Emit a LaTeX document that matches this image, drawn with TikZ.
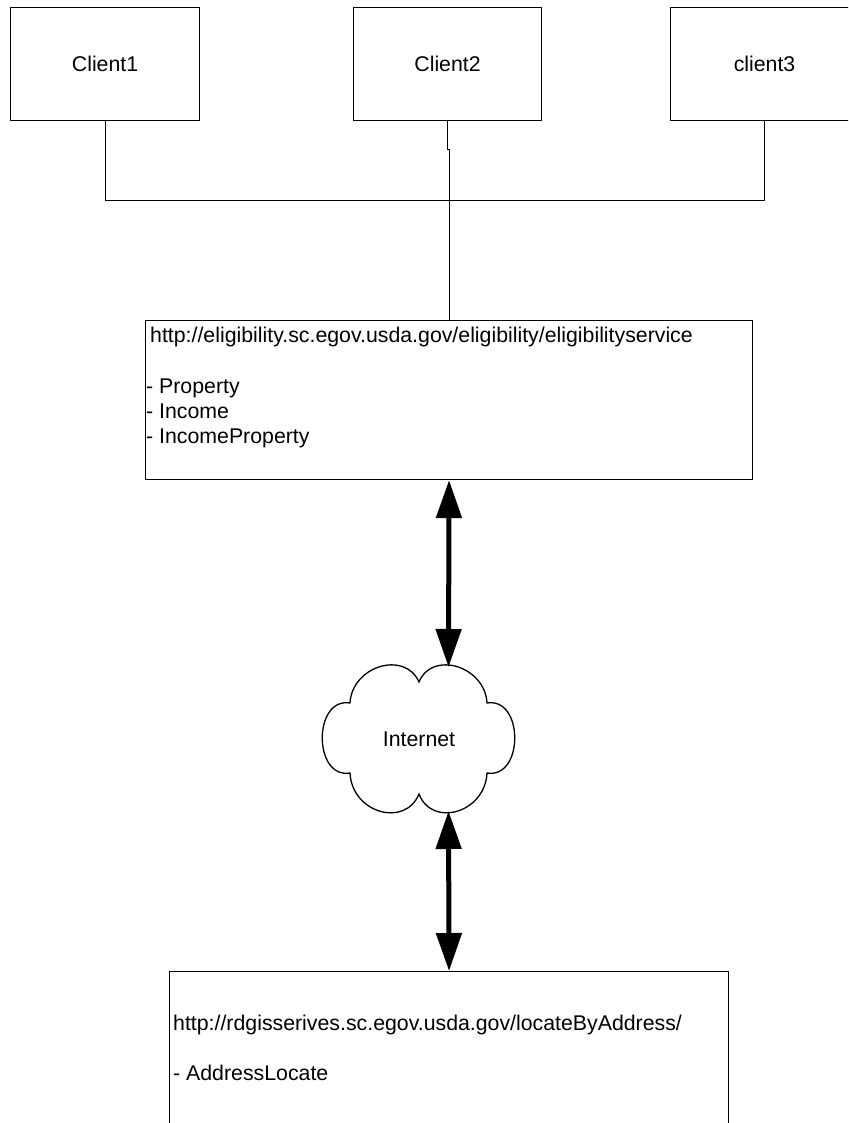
\documentclass[tikz,border=0pt]{standalone}
\usepackage{fontspec}
\setmainfont{Liberation Sans}
\usetikzlibrary{arrows.meta}
\begin{document}
\begin{tikzpicture}[x=1pt,y=-1pt,
  box/.style={draw=black, line width=1.1pt, rectangle, inner sep=0pt, anchor=north west},
  txt/.style={font=\fontsize{21.3}{25}\selectfont, inner sep=0pt},
  wire/.style={draw=black, line width=1pt},
  dbl/.style={line width=5pt, {Triangle[width=25pt,length=38pt]}-{Triangle[width=25pt,length=38pt]}},
  cloudline/.style={draw=black, line width=1.3pt, fill=white}]
\useasboundingbox (0,0) rectangle (848,1123);
\clip (0,0) rectangle (848,1123);
\fill[white] (0,0) rectangle (848,1123);

% clients
\node[box, txt, draw, line width=1.1pt, anchor=north west, minimum width=189pt, minimum height=113pt] (c1) at (10,7) {Client1};
\node[box, txt, draw, line width=1.1pt, anchor=north west, minimum width=188pt, minimum height=113pt] (c2) at (353,7) {Client2};
\node[box, txt, draw, line width=1.1pt, anchor=north west, minimum width=188pt, minimum height=113pt] (c3) at (670,7) {client3};

% eligibility service box
\node[box, minimum width=607pt, minimum height=159pt] (main) at (145,320) {};
\node[txt, anchor=base west] (m1) at (150,342) {http://eligibility.sc.egov.usda.gov/eligibility/eligibilityservice};
\node[txt, anchor=base west] (m2) at (146,393) {- Property};
\node[txt, anchor=base west] (m3) at (146,418) {- Income};
\node[txt, anchor=base west] (m4) at (146,443) {- IncomeProperty};

% locate box
\node[box, minimum width=559pt, minimum height=200pt] (bot) at (169,971) {};
\node[txt, anchor=base west] (b1) at (173,1030) {http://rdgisserives.sc.egov.usda.gov/locateByAddress/};
\node[txt, anchor=base west] (b2) at (173,1080) {- AddressLocate};

% cloud
\draw[cloudline] (350,703) .. controls (352,666) and (405,650) .. (419,682)
  .. controls (432,650) and (485,666) .. (487,703)
  .. controls (524,697) and (524,779) .. (487,773)
  .. controls (485,813) and (432,828) .. (419,794)
  .. controls (405,828) and (352,813) .. (350,773)
  .. controls (313,779) and (313,697) .. (350,703) -- cycle;
\node[txt, anchor=base] (inet) at (419,746) {Internet};
\coordinate (cloudtop) at (448.5,667);
\coordinate (cloudbot) at (448.5,811);

% connectors
\draw[wire] (c1.south) -- ++(0,79) -| (c3.south);
\draw[wire] (c2.south) -- ++(0,28) -| (main.north);
\draw[dbl] (main.south) -- (cloudtop);
\draw[dbl] (cloudbot) -- (bot.north);
\end{tikzpicture}
\end{document}
